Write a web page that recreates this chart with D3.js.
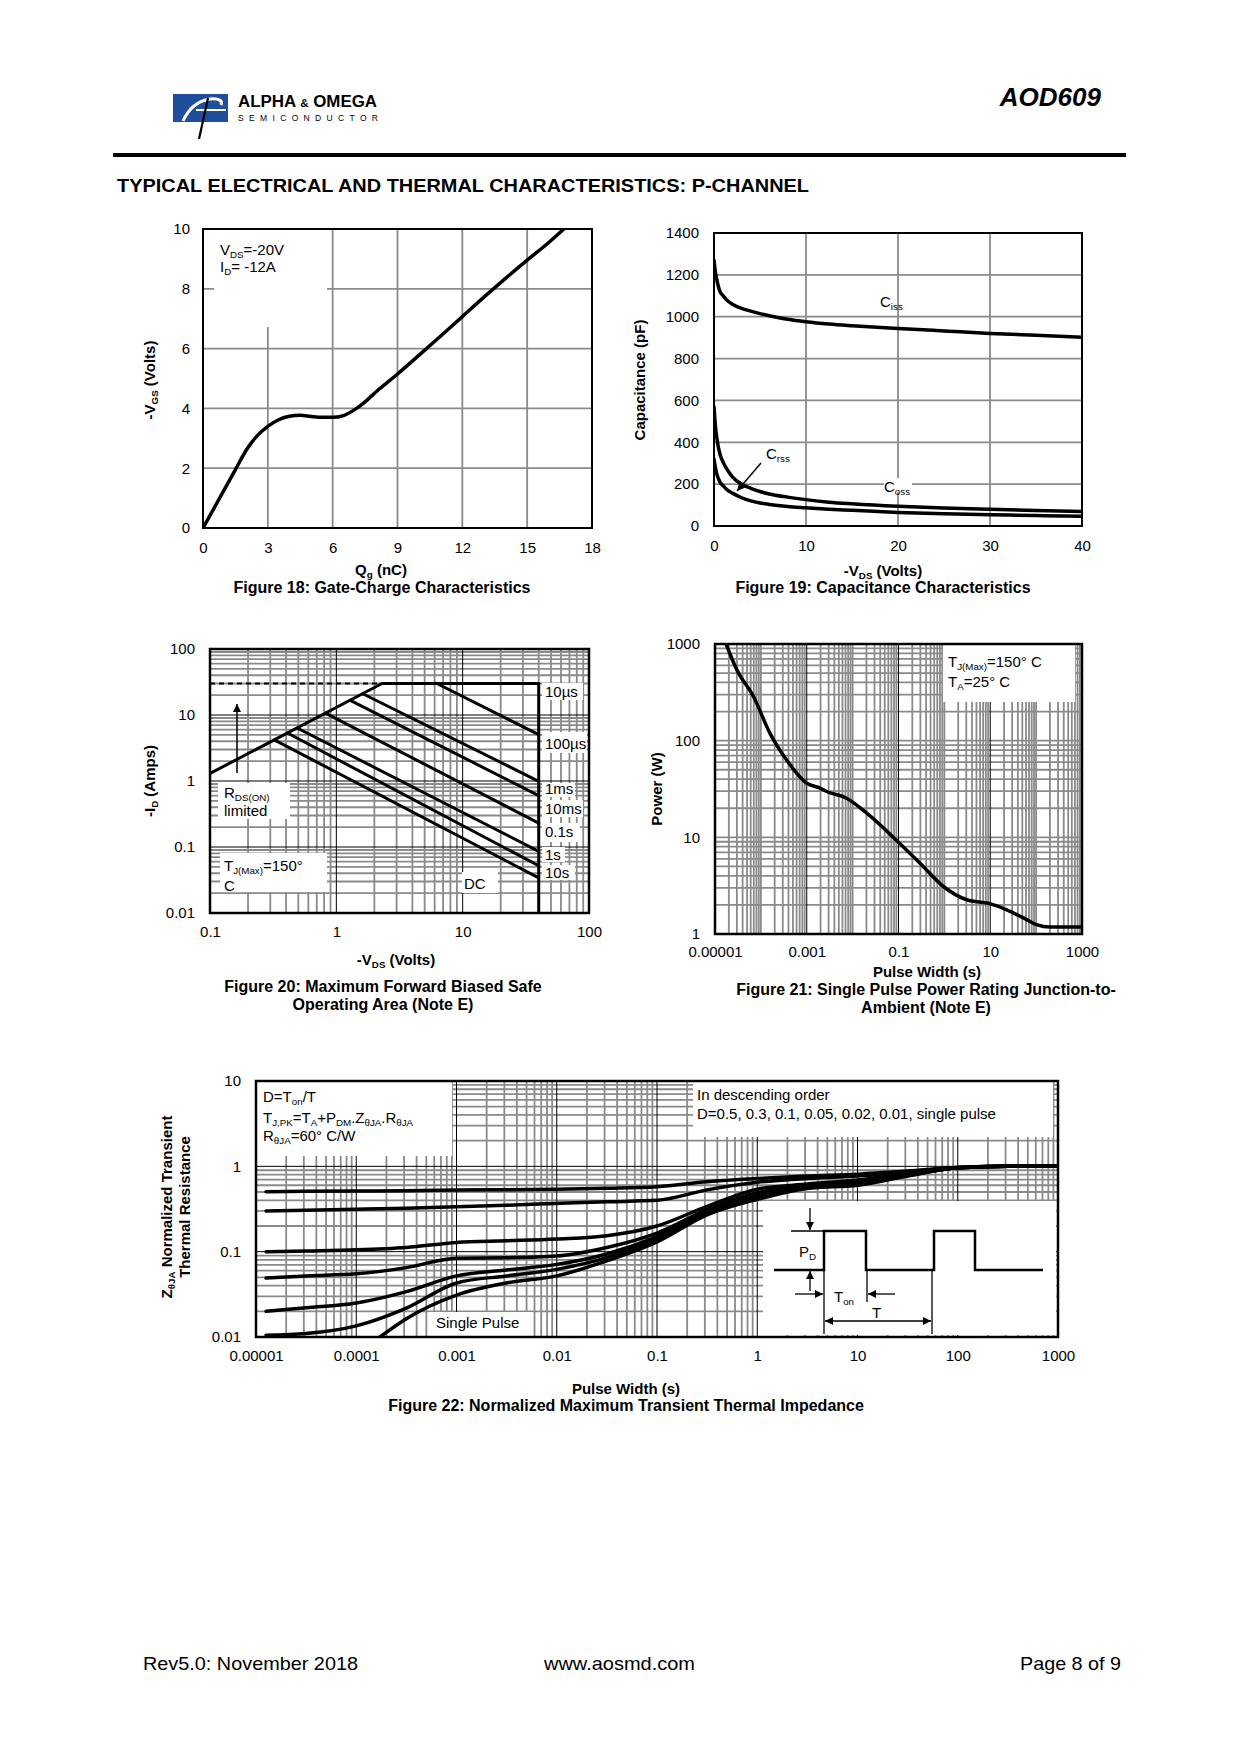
<!DOCTYPE html>
<html>
<head>
<meta charset="utf-8">
<script src="https://cdn.jsdelivr.net/npm/d3@7"></script>
<style>
  body { margin: 0; background: #fff; }
  svg { display: block; font-family: "Liberation Sans", Arial, Helvetica, sans-serif; }
</style>
</head>
<body>
<svg id="page" width="1240" height="1754"></svg>
<script>
// ---------- data ----------

// Figure 18: gate charge
const qgNC = [0, 0.5, 1, 1.5, 2, 2.5, 3, 3.5, 4, 4.5, 5, 5.5, 6, 6.5, 7, 7.5, 8, 9, 10, 11, 12, 13, 14, 15, 16, 16.7]
const vgsV = [0, 0.65, 1.3, 1.95, 2.6, 3.08, 3.4, 3.62, 3.74, 3.77, 3.73, 3.7, 3.7, 3.76, 3.95, 4.22, 4.55, 5.15, 5.78, 6.42, 7.07, 7.72, 8.35, 8.96, 9.55, 10]
const fig18XTicks = [0, 3, 6, 9, 12, 15, 18]
const fig18YTicks = [0, 2, 4, 6, 8, 10]

// Figure 19: capacitance
const vdsCap = [0, 0.15, 0.3, 0.65, 1, 1.5, 2, 3, 4, 5, 6, 8, 10, 12.5, 15, 20, 25, 30, 35, 40]
const ciss = [1270, 1215, 1178, 1120, 1100, 1075, 1060, 1040, 1027, 1015, 1005, 988, 976, 965, 957, 944, 932, 920, 911, 902]
const coss = [570, 480, 422, 343, 304, 265, 235, 200, 180, 165, 153, 138, 126, 114, 106, 94, 86, 80, 74, 69]
const crss = [320, 280, 249, 210, 192, 170, 157, 135, 120, 110, 103, 93, 87, 80, 75, 65, 58, 54, 50, 47]
const fig19XTicks = [0, 10, 20, 30, 40]
const fig19YTicks = [0, 200, 400, 600, 800, 1000, 1200, 1400]

// Figure 20: safe operating area
const rdsLimitV = [0.1, 2.3]
const rdsLimitI = [1.3, 30]
const currentLimitA = 30
const vdsMax = 40
const soaNames = ['10µs', '100µs', '1ms', '10ms', '0.1s', '1s', '10s']
const soaStartV = [6.25, 1.62, 1.29, 0.82, 0.49, 0.41, 0.323]
const soaStartI = [30, 21, 16.7, 10.7, 6.35, 5.33, 4.2]
const soaEndI = [5.04, 0.99, 0.6, 0.23, 0.086, 0.052, 0.034]
const fig20XTicks = [0.1, 1, 10, 100]
const fig20XLabels = ['0.1', '1', '10', '100']
const fig20YTicks = [0.01, 0.1, 1, 10, 100]
const fig20YLabels = ['0.01', '0.1', '1', '10', '100']

// Figure 21: single pulse power
const pulseT21 = [1.74e-5, 3e-5, 6.9e-5, 1.58e-4, 3.65e-4, 1e-3, 1.95e-3, 2.7e-3, 7.4e-3, 0.0203, 0.096, 0.295, 0.95, 3.07, 9.8, 22.9, 62, 102, 200, 1000]
const powerW = [1000, 540, 286, 119, 63, 36.3, 32.3, 29.8, 25.4, 17.8, 9.07, 5.4, 3.1, 2.26, 2.06, 1.78, 1.41, 1.25, 1.18, 1.18]
const fig21XTicks = [1e-5, 1e-3, 0.1, 10, 1000]
const fig21XLabels = ['0.00001', '0.001', '0.1', '10', '1000']
const fig21YTicks = [1, 10, 100, 1000]
const fig21YLabels = ['1', '10', '100', '1000']

// Figure 22: transient thermal impedance
const pulseT22 = [1.26e-5, 3.16e-5, 1e-4, 3.16e-4, 1e-3, 3.16e-3, 0.01, 0.0316, 0.1, 0.316, 1, 3.16, 10, 31.6, 100, 316, 1000]
const zD05 = [0.505, 0.509, 0.514, 0.519, 0.528, 0.533, 0.538, 0.553, 0.578, 0.66, 0.72, 0.77, 0.81, 0.88, 0.97, 1.0, 1.0]
const zD03 = [0.3, 0.306, 0.314, 0.323, 0.335, 0.35, 0.367, 0.384, 0.4, 0.53, 0.65, 0.72, 0.77, 0.86, 0.97, 1.0, 1.0]
const zD01 = [0.1, 0.102, 0.105, 0.112, 0.128, 0.134, 0.141, 0.154, 0.2, 0.34, 0.54, 0.62, 0.69, 0.82, 0.96, 1.0, 1.0]
const zD005 = [0.049, 0.052, 0.055, 0.065, 0.084, 0.085, 0.089, 0.112, 0.165, 0.31, 0.49, 0.6, 0.66, 0.8, 0.96, 1.0, 1.0]
const zD002 = [0.02, 0.022, 0.025, 0.034, 0.052, 0.061, 0.071, 0.094, 0.15, 0.29, 0.45, 0.57, 0.63, 0.79, 0.96, 1.0, 1.0]
const zD001 = [0.0105, 0.011, 0.0135, 0.0218, 0.043, 0.052, 0.062, 0.085, 0.14, 0.28, 0.43, 0.56, 0.61, 0.78, 0.96, 1.0, 1.0]
const pulseTSingle = [1.62e-4, 3.16e-4, 1e-3, 3.16e-3, 0.01, 0.0316, 0.1, 0.316, 1, 3.16, 10, 31.6, 100, 316, 1000]
const zSingle = [0.0095, 0.0164, 0.031, 0.043, 0.052, 0.078, 0.13, 0.27, 0.41, 0.55, 0.6, 0.77, 0.96, 1.0, 1.0]
const fig22XTicks = [1e-5, 1e-4, 1e-3, 0.01, 0.1, 1, 10, 100, 1000]
const fig22XLabels = ['0.00001', '0.0001', '0.001', '0.01', '0.1', '1', '10', '100', '1000']
const fig22YTicks = [0.01, 0.1, 1, 10]
const fig22YLabels = ['0.01', '0.1', '1', '10']

// ---------- drawing ----------
const svg = d3.select('#page')
const GRID = '#8a8a8a'
const defs = svg.append('defs')
defs.append('marker')
  .attr('id', 'arrow')
  .attr('viewBox', '0 0 10 10')
  .attr('refX', 10).attr('refY', 5)
  .attr('markerWidth', 8).attr('markerHeight', 9)
  .attr('markerUnits', 'userSpaceOnUse')
  .attr('orient', 'auto-start-reverse')
  .append('path').attr('d', 'M0,0L10,5L0,10z').attr('fill', '#000')

// text with sub-scripts: parts = ['V', {t:'DS', sub:true}, '=-20V']
function rich(parent, x, y, parts, size, opt = {}) {
  const t = parent.append('text')
    .attr('font-size', size)
    .attr('text-anchor', opt.anchor || 'start')
    .attr('font-weight', opt.bold ? 'bold' : null)
  if (opt.rotate) t.attr('transform', `translate(${x},${y}) rotate(${opt.rotate})`)
  else t.attr('x', x).attr('y', y)
  let shift = 0
  parts.forEach(p => {
    const part = typeof p === 'string' ? { t: p } : p
    const want = part.sub ? size * 0.22 : 0
    t.append('tspan').attr('dy', want - shift)
      .attr('font-size', part.sub ? size * 0.65 : size)
      .text(part.t)
    shift = want
  })
  return t
}

function whiteBox(g, x, y, w, h) {
  g.append('rect').attr('x', x).attr('y', y).attr('width', w).attr('height', h).attr('fill', '#fff')
}

let clipId = 0
function plotFrame(cfg) {
  const g = svg.append('g')
  const x = (cfg.xLog ? d3.scaleLog() : d3.scaleLinear()).domain(cfg.xDomain).range([cfg.left, cfg.left + cfg.width])
  const y = (cfg.yLog ? d3.scaleLog() : d3.scaleLinear()).domain(cfg.yDomain).range([cfg.top + cfg.height, cfg.top])

  const gridSet = (isLog, scale, ticks, majorGray) => {
    let vals = ticks.slice()
    if (isLog) {
      vals = []
      const [lo, hi] = scale.domain().map(Math.log10)
      for (let e = Math.round(lo); e < Math.round(hi); e++)
        for (let m = 1; m <= 9; m++) vals.push(+(m * Math.pow(10, e)).toPrecision(3))
    }
    const r = scale.range()
    vals = vals.filter(v => Math.abs(scale(v) - r[0]) > 1 && Math.abs(scale(v) - r[1]) > 1)
    const isMajor = v => isLog && !majorGray && ticks.some(t => Math.abs(t - v) / t < 1e-6)
    return { minor: vals.filter(v => !isMajor(v)), major: vals.filter(isMajor) }
  }
  const xs = gridSet(cfg.xLog, x, cfg.xTicks, cfg.xMajorGray)
  const ys = gridSet(cfg.yLog, y, cfg.yTicks, cfg.yMajorGray)
  const grid = g.append('g')
  const drawV = (vals, col, w) => grid.append('g').selectAll('line').data(vals).join('line')
    .attr('x1', d => x(d)).attr('x2', d => x(d)).attr('y1', y.range()[0]).attr('y2', y.range()[1])
    .attr('stroke', col).attr('stroke-width', w)
  const drawH = (vals, col, w) => grid.append('g').selectAll('line').data(vals).join('line')
    .attr('y1', d => y(d)).attr('y2', d => y(d)).attr('x1', x.range()[0]).attr('x2', x.range()[1])
    .attr('stroke', col).attr('stroke-width', w)
  drawV(xs.minor, GRID, 1.8)
  drawH(ys.minor, GRID, 1.8)
  drawV(xs.major, '#000', 1)
  drawH(ys.major, '#000', 1)

  const boxes = g.append('g')
  const id = 'clip' + (clipId++)
  defs.append('clipPath').attr('id', id).append('rect')
    .attr('x', cfg.left).attr('y', cfg.top).attr('width', cfg.width).attr('height', cfg.height)
  const marks = g.append('g').attr('clip-path', `url(#${id})`)
  const over = g.append('g')

  const lab = (ticks, labels) => d => labels ? labels[ticks.indexOf(d)] : d
  g.append('g')
    .attr('transform', `translate(0,${cfg.top + cfg.height})`)
    .call(d3.axisBottom(x).tickValues(cfg.xTicks).tickFormat(lab(cfg.xTicks, cfg.xLabels)).tickSize(0).tickPadding(cfg.xPad))
    .call(a => a.select('.domain').remove())
    .attr('font-size', 15).attr('font-family', null)
  g.append('g')
    .attr('transform', `translate(${cfg.left},0)`)
    .call(d3.axisLeft(y).tickValues(cfg.yTicks).tickFormat(lab(cfg.yTicks, cfg.yLabels)).tickSize(0).tickPadding(cfg.yPad))
    .call(a => a.select('.domain').remove())
    .attr('font-size', 15).attr('font-family', null)

  over.append('rect').attr('x', cfg.left).attr('y', cfg.top).attr('width', cfg.width).attr('height', cfg.height)
    .attr('fill', 'none').attr('stroke', '#000').attr('stroke-width', cfg.border)
  return { g, x, y, boxes, marks, over }
}

function curve(p, xs, ys, width, smooth = true) {
  const pts = xs.map((v, i) => [v, ys[i]])
  p.marks.append('path')
    .attr('d', d3.line().x(d => p.x(d[0])).y(d => p.y(d[1])).curve(smooth ? d3.curveMonotoneX : d3.curveLinear)(pts))
    .attr('fill', 'none').attr('stroke', '#000').attr('stroke-width', width)
    .attr('stroke-linejoin', 'round').attr('stroke-linecap', 'round')
}

// ---------- page header ----------
const head = svg.append('g')
head.append('rect').attr('x', 173).attr('y', 94).attr('width', 55).attr('height', 28).attr('fill', '#1f4f9a')
head.append('path').attr('d', 'M183,121 C188,110 197,101 210,99 C219,98 223,101 221,105')
  .attr('fill', 'none').attr('stroke', '#fff').attr('stroke-width', 3)
head.append('line').attr('x1', 196).attr('y1', 110).attr('x2', 226).attr('y2', 110).attr('stroke', '#fff').attr('stroke-width', 2)
head.append('line').attr('x1', 208).attr('y1', 98).attr('x2', 199).attr('y2', 139).attr('stroke', '#000').attr('stroke-width', 2.2)
head.append('text').attr('x', 238).attr('y', 107).attr('font-size', 16).attr('font-weight', 'bold')
  .attr('textLength', 139).attr('lengthAdjust', 'spacingAndGlyphs')
  .html('ALPHA <tspan font-size="11">&amp;</tspan> OMEGA')
head.append('text').attr('x', 238).attr('y', 121).attr('font-size', 8.5)
  .attr('textLength', 140).attr('lengthAdjust', 'spacing').text('SEMICONDUCTOR')
head.append('text').attr('x', 1101).attr('y', 106).attr('font-size', 26).attr('font-weight', 'bold')
  .attr('font-style', 'italic').attr('text-anchor', 'end').text('AOD609')
head.append('rect').attr('x', 113).attr('y', 153).attr('width', 1013).attr('height', 4).attr('fill', '#000')
head.append('text').attr('x', 117).attr('y', 192).attr('font-size', 18).attr('font-weight', 'bold')
  .attr('textLength', 692).attr('lengthAdjust', 'spacingAndGlyphs')
  .text('TYPICAL ELECTRICAL AND THERMAL CHARACTERISTICS: P-CHANNEL')

// ---------- Figure 18 ----------
const f18 = plotFrame({ left: 203, top: 229, width: 389, height: 299, xDomain: [0, 18], yDomain: [0, 10],
  xTicks: fig18XTicks, yTicks: fig18YTicks, xPad: 14, yPad: 13, border: 2 })
whiteBox(f18.boxes, 214, 230, 113, 97)
curve(f18, qgNC, vgsV, 3.5)
rich(f18.over, 220, 255, ['V', { t: 'DS', sub: true }, '=-20V'], 15)
rich(f18.over, 220, 272, ['I', { t: 'D', sub: true }, '= -12A'], 15)
rich(f18.over, 381, 575, ['Q', { t: 'g', sub: true }, ' (nC)'], 15, { bold: true, anchor: 'middle' })
rich(f18.over, 382, 593, ['Figure 18: Gate-Charge Characteristics'], 16, { bold: true, anchor: 'middle' })
rich(f18.over, 155, 380, ['-V', { t: 'GS', sub: true }, ' (Volts)'], 15, { bold: true, anchor: 'middle', rotate: -90 })

// ---------- Figure 19 ----------
const f19 = plotFrame({ left: 714, top: 233, width: 368, height: 293, xDomain: [0, 40], yDomain: [0, 1400],
  xTicks: fig19XTicks, yTicks: fig19YTicks, xPad: 14, yPad: 15, border: 2 })
whiteBox(f19.boxes, 760, 455, 43, 12)
whiteBox(f19.boxes, 884, 478, 28, 14)
curve(f19, vdsCap, ciss, 3.5)
curve(f19, vdsCap, coss, 3.5)
curve(f19, vdsCap, crss, 3.5)
rich(f19.over, 880, 307, ['C', { t: 'iss', sub: true }], 15)
rich(f19.over, 766, 459, ['C', { t: 'rss', sub: true }], 15)
rich(f19.over, 884, 492, ['C', { t: 'oss', sub: true }], 15)
f19.over.append('line').attr('x1', 761).attr('y1', 463).attr('x2', 737).attr('y2', 491)
  .attr('stroke', '#000').attr('stroke-width', 1.5).attr('marker-end', 'url(#arrow)')
rich(f19.over, 883, 576, ['-V', { t: 'DS', sub: true }, ' (Volts)'], 15, { bold: true, anchor: 'middle' })
rich(f19.over, 883, 593, ['Figure 19: Capacitance Characteristics'], 16, { bold: true, anchor: 'middle' })
rich(f19.over, 645, 380, ['Capacitance (pF)'], 15, { bold: true, anchor: 'middle', rotate: -90 })

// ---------- Figure 20 ----------
const f20 = plotFrame({ left: 210, top: 649, width: 379, height: 264, xDomain: [0.1, 100], yDomain: [0.01, 100],
  xLog: true, yLog: true, xTicks: fig20XTicks, xLabels: fig20XLabels, yTicks: fig20YTicks, yLabels: fig20YLabels,
  xPad: 13, yPad: 15, border: 2.5 })
;[[218, 783, 72, 36], [220, 853, 107, 39], [462, 872, 36, 21],
  [542, 683, 41, 17], [542, 732, 45, 21], [542, 783, 33, 14], [542, 800, 41, 17],
  [542, 823, 38, 19], [542, 847, 23, 15], [542, 865, 33, 15]]
  .forEach(b => whiteBox(f20.boxes, ...b))
curve(f20, rdsLimitV, rdsLimitI, 3, false)
curve(f20, [rdsLimitV[1], vdsMax], [currentLimitA, currentLimitA], 3, false)
curve(f20, [vdsMax, vdsMax], [currentLimitA, 0.01], 3, false)
soaNames.forEach((n, k) => curve(f20, [soaStartV[k], vdsMax], [soaStartI[k], soaEndI[k]], 3, false))
f20.marks.append('line')
  .attr('x1', f20.x(0.1)).attr('x2', f20.x(rdsLimitV[1])).attr('y1', f20.y(currentLimitA)).attr('y2', f20.y(currentLimitA))
  .attr('stroke', '#000').attr('stroke-width', 2).attr('stroke-dasharray', '5,4')
f20.over.append('line').attr('x1', 237).attr('y1', 773).attr('x2', 237).attr('y2', 704)
  .attr('stroke', '#000').attr('stroke-width', 1.5).attr('marker-end', 'url(#arrow)')
const soaLabelY = [697, 749, 794, 814, 837, 860, 878]
soaNames.forEach((n, k) => f20.over.append('text').attr('x', 545).attr('y', soaLabelY[k]).attr('font-size', 15).text(n))
f20.over.append('text').attr('x', 464).attr('y', 889).attr('font-size', 15).text('DC')
rich(f20.over, 224, 798, ['R', { t: 'DS(ON)', sub: true }], 15)
rich(f20.over, 224, 816, ['limited'], 15)
rich(f20.over, 224, 871, ['T', { t: 'J(Max)', sub: true }, '=150°'], 15)
rich(f20.over, 224, 891, ['C'], 15)
rich(f20.over, 396, 965, ['-V', { t: 'DS', sub: true }, ' (Volts)'], 15, { bold: true, anchor: 'middle' })
rich(f20.over, 383, 992, ['Figure 20: Maximum Forward Biased Safe'], 16, { bold: true, anchor: 'middle' })
rich(f20.over, 383, 1010, ['Operating Area (Note E)'], 16, { bold: true, anchor: 'middle' })
rich(f20.over, 155, 781, ['-I', { t: 'D', sub: true }, ' (Amps)'], 15, { bold: true, anchor: 'middle', rotate: -90 })

// ---------- Figure 21 ----------
const f21 = plotFrame({ left: 715, top: 644, width: 367, height: 290, xDomain: [1e-5, 1000], yDomain: [1, 1000],
  xLog: true, yLog: true, xTicks: fig21XTicks, xLabels: fig21XLabels, yTicks: fig21YTicks, yLabels: fig21YLabels,
  yMajorGray: true, xPad: 12, yPad: 15, border: 2.5 })
whiteBox(f21.boxes, 943, 645, 132, 57)
curve(f21, pulseT21, powerW, 3.5)
rich(f21.over, 948, 667, ['T', { t: 'J(Max)', sub: true }, '=150°  C'], 15)
rich(f21.over, 948, 687, ['T', { t: 'A', sub: true }, '=25°  C'], 15)
rich(f21.over, 927, 977, ['Pulse Width (s)'], 15, { bold: true, anchor: 'middle' })
rich(f21.over, 926, 995, ['Figure 21: Single Pulse Power Rating Junction-to-'], 16, { bold: true, anchor: 'middle' })
rich(f21.over, 926, 1013, ['Ambient (Note E)'], 16, { bold: true, anchor: 'middle' })
rich(f21.over, 662, 789, ['Power (W)'], 15, { bold: true, anchor: 'middle', rotate: -90 })

// ---------- Figure 22 ----------
const f22 = plotFrame({ left: 256, top: 1081, width: 802, height: 256, xDomain: [1e-5, 1000], yDomain: [0.01, 10],
  xLog: true, yLog: true, xTicks: fig22XTicks, xLabels: fig22XLabels, yTicks: fig22YTicks, yLabels: fig22YLabels,
  xPad: 13, yPad: 15, border: 2.5 })
whiteBox(f22.boxes, 257, 1082, 195, 74)
whiteBox(f22.boxes, 693, 1082, 360, 55)
whiteBox(f22.boxes, 428, 1312, 105, 24)
;[zD05, zD03, zD01, zD005, zD002, zD001].forEach(z => curve(f22, pulseT22, z, 3.5))
curve(f22, pulseTSingle, zSingle, 3.5)

// inset pulse sketch
const ins = f22.over
ins.append('rect').attr('x', 763).attr('y', 1201).attr('width', 293).attr('height', 134).attr('fill', '#fff')
ins.append('path').attr('d', 'M774,1270H824V1231H866V1270H934V1231H975V1270H1043')
  .attr('fill', 'none').attr('stroke', '#000').attr('stroke-width', 2.5)
const thin = (x1, y1, x2, y2, arrow) => {
  const l = ins.append('line').attr('x1', x1).attr('y1', y1).attr('x2', x2).attr('y2', y2)
    .attr('stroke', '#000').attr('stroke-width', 1.3)
  if (arrow === 'end' || arrow === 'both') l.attr('marker-end', 'url(#arrow)')
  if (arrow === 'both') l.attr('marker-start', 'url(#arrow)')
}
thin(791, 1231, 824, 1231)
thin(810, 1208, 810, 1230, 'end')
thin(810, 1291, 810, 1271, 'end')
thin(824, 1231, 824, 1334)
thin(867, 1270, 867, 1302)
thin(932, 1270, 932, 1334)
thin(795, 1294, 823, 1294, 'end')
thin(895, 1294, 868, 1294, 'end')
thin(825, 1321, 931, 1321, 'both')
rich(ins, 799, 1257, ['P', { t: 'D', sub: true }], 15)
rich(ins, 834, 1302, ['T', { t: 'on', sub: true }], 15)
rich(ins, 872, 1318, ['T'], 15)

rich(f22.over, 263, 1102, ['D=T', { t: 'on', sub: true }, '/T'], 15)
rich(f22.over, 263, 1123, ['T', { t: 'J,PK', sub: true }, '=T', { t: 'A', sub: true }, '+P', { t: 'DM', sub: true },
  '.Z', { t: 'θJA', sub: true }, '.R', { t: 'θJA', sub: true }], 15)
rich(f22.over, 263, 1141, ['R', { t: 'θJA', sub: true }, '=60°  C/W'], 15)
rich(f22.over, 697, 1100, ['In descending order'], 15)
rich(f22.over, 697, 1119, ['D=0.5, 0.3, 0.1, 0.05, 0.02, 0.01, single pulse'], 15)
rich(f22.over, 436, 1328, ['Single Pulse'], 15)
rich(f22.over, 626, 1394, ['Pulse Width (s)'], 15, { bold: true, anchor: 'middle' })
rich(f22.over, 626, 1411, ['Figure 22: Normalized Maximum Transient Thermal Impedance'], 16, { bold: true, anchor: 'middle' })
rich(f22.over, 172, 1207, ['Z', { t: 'θJA', sub: true }, ' Normalized Transient'], 15, { bold: true, anchor: 'middle', rotate: -90 })
rich(f22.over, 190, 1207, ['Thermal Resistance'], 15, { bold: true, anchor: 'middle', rotate: -90 })

// ---------- footer ----------
const foot = svg.append('g').attr('font-size', 19)
foot.append('text').attr('x', 143).attr('y', 1670).attr('textLength', 215).attr('lengthAdjust', 'spacingAndGlyphs').text('Rev5.0: November 2018')
foot.append('text').attr('x', 544).attr('y', 1670).attr('textLength', 151).attr('lengthAdjust', 'spacingAndGlyphs').text('www.aosmd.com')
foot.append('text').attr('x', 1020).attr('y', 1670).attr('textLength', 101).attr('lengthAdjust', 'spacingAndGlyphs').text('Page 8 of 9')
</script>
</body>
</html>
